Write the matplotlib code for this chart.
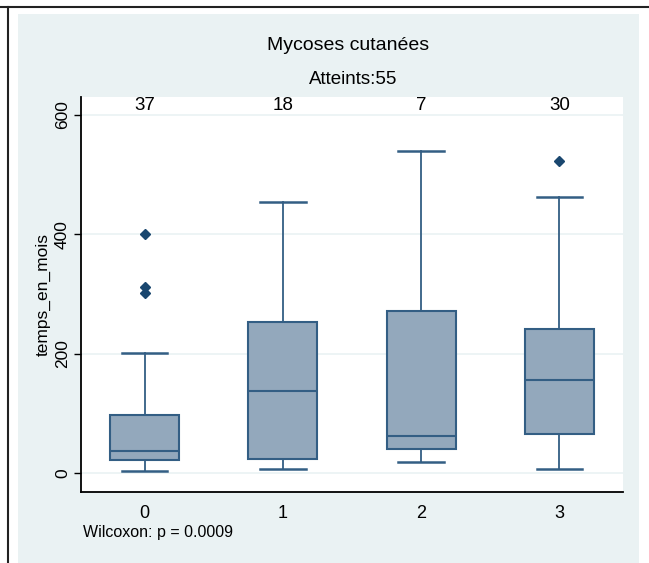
import matplotlib
matplotlib.use("Agg")
import matplotlib.pyplot as plt
from matplotlib.patches import Rectangle
from matplotlib.lines import Line2D

plt.rcParams['font.family'] = ['Liberation Sans', 'DejaVu Sans']

# data
groups = ["0", "1", "2", "3"]
counts = [37, 18, 7, 30]
whislo = [3, 6, 19, 6]
q1 = [22, 23, 40, 65]
med = [37, 137, 62, 156]
q3 = [97, 253, 271, 241]
whishi = [201, 454, 540, 462]
fliers = [[400, 311, 301], [], [], [523]]
y_ticks = [0, 200, 400, 600]

bg = "#EAF2F3"
box_fill = "#93A8BC"
box_edge = "#335E84"
navy = "#1A476F"

fig = plt.figure(figsize=(6.49, 5.63), dpi=100)

# outer graph region + frame lines of the table cell
fig.patches.append(Rectangle((18 / 649, 0), (639 - 18) / 649, 1 - 14 / 563,
                             transform=fig.transFigure, facecolor=bg,
                             edgecolor="none", zorder=-5))
fig.lines.append(Line2D([0, 1], [1 - 7 / 563] * 2, transform=fig.transFigure,
                        color="#222222", lw=1.5, zorder=-4))
fig.lines.append(Line2D([8 / 649] * 2, [0, 1 - 7 / 563], transform=fig.transFigure,
                        color="#222222", lw=1.5, zorder=-4))

ax = fig.add_axes([81 / 649, 1 - 492 / 563, (623 - 81) / 649, (492 - 97) / 563])
ax.set_zorder(2)
ax.set_facecolor("white")

stats = []
for i in range(len(groups)):
    stats.append({"whislo": whislo[i], "q1": q1[i], "med": med[i],
                  "q3": q3[i], "whishi": whishi[i], "fliers": fliers[i],
                  "label": groups[i]})

ax.bxp(stats, positions=range(len(groups)), widths=0.5, patch_artist=True,
       showfliers=True,
       boxprops=dict(facecolor=box_fill, edgecolor=box_edge, linewidth=1.5),
       medianprops=dict(color=box_edge, linewidth=1.5),
       whiskerprops=dict(color=box_edge, linewidth=1.3),
       capprops=dict(color=box_edge, linewidth=1.8),
       capwidths=0.33,
       flierprops=dict(marker="D", markersize=5, markerfacecolor=navy,
                       markeredgecolor=navy))

ax.set_xlim(-0.46, 3.46)
ax.set_ylim(-32, 630)
ax.set_yticks(y_ticks)
ax.set_yticklabels([str(t) for t in y_ticks], rotation=90, va="center", fontsize=12.5)
ax.yaxis.grid(True, color=bg, linewidth=1.2)
ax.set_axisbelow(True)
ax.tick_params(axis="y", length=5, width=1, pad=3)
ax.tick_params(axis="x", length=0, labelsize=13, pad=9)

for side in ["top", "right"]:
    ax.spines[side].set_visible(False)
for side in ["left", "bottom"]:
    ax.spines[side].set_color("black")
    ax.spines[side].set_linewidth(1.3)

ax.set_ylabel("temps_en_mois", fontsize=12.5, labelpad=3)

for i, n in enumerate(counts):
    ax.text(i, 616, str(n), ha="center", va="center", fontsize=13.5)

fig.text(348 / 649, 1 - 45 / 563, "Mycoses cutanées", ha="center", va="center",
         fontsize=14)
fig.text(353 / 649, 1 - 80 / 563, "Atteints:55", ha="center", va="center",
         fontsize=13.5)
fig.text(83 / 649, 1 - 533 / 563, "Wilcoxon: p = 0.0009", ha="left", va="center",
         fontsize=11.5)

fig.savefig("out.png", dpi=100)
